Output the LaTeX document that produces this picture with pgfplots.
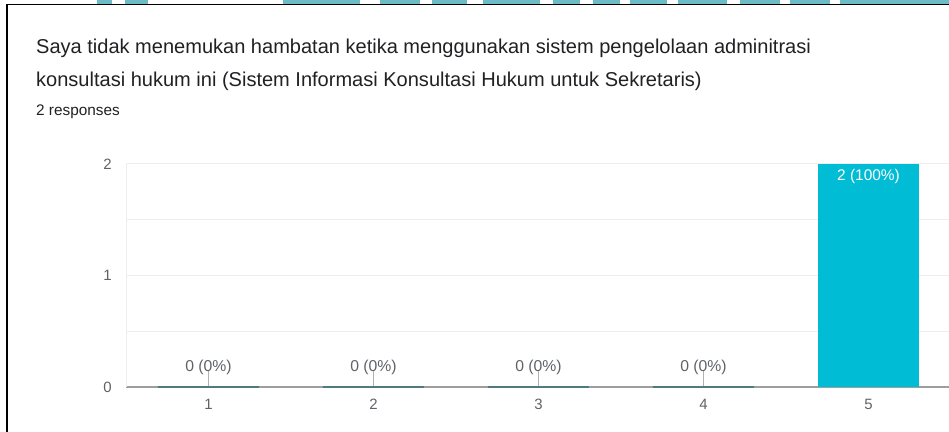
\documentclass[border=0pt]{standalone}
\usepackage{pgfplots}
\pgfplotsset{compat=1.18}
\usepackage{pgfplotstable}
\usepackage{fontspec}
\setmainfont{Liberation Sans}

\definecolor{bartile}{HTML}{00BCD4}
\definecolor{titlecol}{HTML}{202124}
\definecolor{labcol}{HTML}{5F6368}
\definecolor{gridcol}{HTML}{EEEEEE}
\definecolor{basecol}{HTML}{9E9E9E}
\definecolor{zerocol}{HTML}{4F7A80}
\definecolor{marktop}{HTML}{6BBCC6}

% answers 1..4: nobody, answer 5: both respondents
\pgfplotstableread{
x y pct
1 0 0
2 0 0
3 0 0
4 0 0
}\zerobars
\pgfplotstableread{
x y pct
5 2 100
}\fullbars

\begin{document}
\begin{tikzpicture}
\useasboundingbox (0,0) rectangle (949bp,432bp);
\fill[white] (0,0) rectangle (949bp,432bp);

% cut-off watermark strip above the card
\foreach \a/\b in {97/112,125/148,283/360,380/420,432/467,483/540,553/580,593/620,630/667,678/727,740/780,790/830,840/949}
  \fill[marktop] (\a bp,427.5bp) rectangle (\b bp,432bp);

% card border
\draw[black,line width=1.5bp] (7bp,0) -- (7bp,427.3bp) -- (949bp,427.3bp);

% title and response count
\node[anchor=base west,inner sep=0,text=titlecol,font=\fontsize{20.1}{22}\selectfont] at (36bp,378.7bp)
  {Saya tidak menemukan hambatan ketika menggunakan sistem pengelolaan adminitrasi};
\node[anchor=base west,inner sep=0,text=titlecol,font=\fontsize{20.1}{22}\selectfont] at (36bp,345.5bp)
  {konsultasi hukum ini (Sistem Informasi Konsultasi Hukum untuk Sekretaris)};
\node[anchor=base west,inner sep=0,text=titlecol,font=\fontsize{15.4}{18}\selectfont] at (36bp,316bp)
  {2 responses};

\begin{axis}[
  at={(126bp,45bp)}, anchor=south west,
  scale only axis, width=823bp, height=223bp,
  xmin=0.5, xmax=5.488, ymin=0, ymax=2,
  xtick={1,2,3,4,5}, ytick={0,1,2}, minor ytick={0.5,1.5},
  ymajorgrids, yminorgrids,
  major grid style={gridcol,line width=1bp},
  minor grid style={gridcol,line width=1bp},
  axis x line=bottom, axis y line=left,
  x axis line style={basecol,line width=2bp,-},
  y axis line style={gridcol,line width=1bp,-},
  major tick length=0pt, minor tick length=0pt,
  tick label style={text=labcol,font=\fontsize{15}{17}\selectfont},
  xticklabel style={anchor=north,inner sep=0,yshift=-12bp},
  yticklabel style={anchor=east,inner sep=0,xshift=-14bp},
  /pgf/number format/assume math mode=true,
  ybar, bar width=101bp, bar shift=0pt,
  clip=false,
]
\addplot[draw=zerocol,line width=1.2bp,fill=none,
  visualization depends on={\thisrow{pct}\as\pct},
  nodes near coords={\shortstack{\pgfmathprintnumber{\pgfplotspointmeta} (\pgfmathprintnumber{\pct}\%)\\[-6.5bp]{\color{basecol!80}\rule{1bp}{15bp}}}},
  every node near coord/.append style={anchor=south,inner sep=0,text=labcol,font=\fontsize{15.8}{17}\selectfont}]
  table[x=x,y=y] {\zerobars};
\addplot[draw=none,fill=bartile,
  visualization depends on={\thisrow{pct}\as\pct},
  nodes near coords={\pgfmathprintnumber{\pgfplotspointmeta} (\pgfmathprintnumber{\pct}\%)},
  every node near coord/.append style={anchor=north,inner sep=0,yshift=-5.5bp,text=white,font=\fontsize{15.5}{17}\selectfont}]
  table[x=x,y=y] {\fullbars};
\end{axis}
\end{tikzpicture}
\end{document}
